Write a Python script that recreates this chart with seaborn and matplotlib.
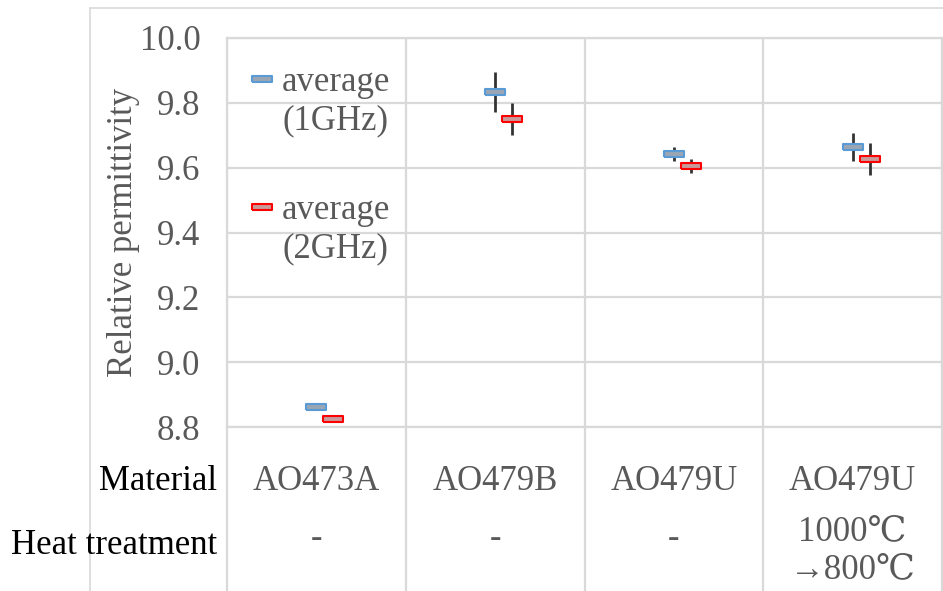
import numpy as np
import pandas as pd
import matplotlib
matplotlib.use("Agg")
import matplotlib.pyplot as plt
import seaborn as sns

# data
materials = ["AO473A", "AO479B", "AO479U", "AO479U"]
heat_treatment = ["-", "-", "-", "1000\u2103\n\u2192800\u2103"]
avg_1ghz = [8.862, 9.833, 9.642, 9.664]
err_1ghz = [0.005, 0.062, 0.022, 0.042]
avg_2ghz = [8.825, 9.750, 9.605, 9.627]
err_2ghz = [0.010, 0.049, 0.022, 0.049]
yticks = [8.8, 9.0, 9.2, 9.4, 9.6, 9.8, 10.0]

sns.set_theme(style="white")
plt.rcParams["font.family"] = ["Liberation Serif", "DejaVu Serif", "DejaVu Sans"]

GRAY_TXT = "#595959"
GRID = "#d9d9d9"
FS = 25

fig = plt.figure(figsize=(9.43, 5.91), dpi=100)
ax = fig.add_axes([227 / 943, 1 - 427 / 591, 715 / 943, 389 / 591])

xpos = np.arange(len(materials))
df = pd.DataFrame({
    "x": np.concatenate([xpos, xpos + 0.095]),
    "value": avg_1ghz + avg_2ghz,
    "err": err_1ghz + err_2ghz,
    "series": ["1GHz"] * len(xpos) + ["2GHz"] * len(xpos),
})

rect = [(-1, -0.3), (1, -0.3), (1, 0.3), (-1, 0.3), (-1, -0.3)]
styles = {"1GHz": ("#5b9bd5", "#9aa6b4"), "2GHz": ("#ff0000", "#c89a9a")}

for name, sub in df.groupby("series"):
    edge, face = styles[name]
    ax.errorbar(sub["x"], sub["value"], yerr=sub["err"], fmt="none",
                ecolor="#333333", elinewidth=2.0, capsize=0, zorder=2)
    sns.scatterplot(x=sub["x"], y=sub["value"], ax=ax, marker=rect, s=190,
                    facecolor=face, edgecolor=edge, linewidth=1.5,
                    label=f"average\n({name})", zorder=3)

ax.set_xlim(-0.5, len(materials) - 0.5)
ax.set_ylim(8.8, 10.0)
ax.set_yticks(yticks)
ax.set_yticklabels([f"{t:.1f}" for t in yticks])
ax.set_xticks([])
bounds = np.arange(len(materials) + 1) - 0.5
ax.set_xticks(bounds, minor=True)
ax.tick_params(axis="both", which="both", length=0)
ax.tick_params(axis="y", labelsize=FS, labelcolor=GRAY_TXT, pad=19)
ax.grid(axis="y", which="major", color=GRID, lw=1.6)
ax.grid(axis="x", which="minor", color=GRID, lw=1.6)
for sp in ax.spines.values():
    sp.set_color(GRID)
    sp.set_linewidth(1.6)
ax.set_xlabel("")
ax.set_ylabel("Relative permittivity", fontsize=FS, color=GRAY_TXT)
ax.yaxis.set_label_coords(-0.121, 0.5)

leg = ax.legend(loc="upper left", bbox_to_anchor=(-0.008, 0.99), frameon=False,
                fontsize=FS, labelcolor=GRAY_TXT, handlelength=0.95,
                handletextpad=0.1, labelspacing=1.65, scatteryoffsets=[1.45],
                borderaxespad=0.3)

# table lines below the plot
bottom_ax = -(591 - 427) / 389
xtr = ax.get_xaxis_transform()
for b in bounds:
    ax.plot([b, b], [0, bottom_ax], transform=xtr, color=GRID, lw=1.6,
            clip_on=False)
fig.add_artist(plt.Line2D([90 / 943, 1], [1 - 8 / 591, 1 - 8 / 591],
                          color=GRID, lw=1.2))
fig.add_artist(plt.Line2D([90 / 943, 90 / 943], [0, 1 - 8 / 591],
                          color=GRID, lw=1.2))

# table text
for i, (m, h) in enumerate(zip(materials, heat_treatment)):
    ax.text(i, (427 - 482) / 389, m, transform=xtr, ha="center", va="center",
            fontsize=FS, color=GRAY_TXT)
    ax.text(i, (427 - 538) / 389 if h == "-" else (427 - 551) / 389, h,
            transform=xtr, ha="center", va="center", fontsize=FS,
            color=GRAY_TXT, linespacing=1.2)
fig.text(217 / 943, 1 - 482 / 591, "Material", ha="right", va="center",
         fontsize=FS, color="black")
fig.text(217 / 943, 1 - 545 / 591, "Heat treatment", ha="right", va="center",
         fontsize=FS, color="black")

fig.savefig("out.png", dpi=100)
